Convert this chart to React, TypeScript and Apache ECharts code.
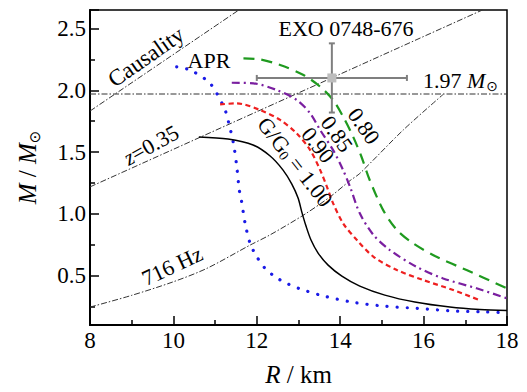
import React, { useEffect, useRef } from "react";
import * as echarts from "echarts";

const FONT = "Liberation Serif";

const X_MIN = 8;
const X_MAX = 18;
const Y_MIN = 0.1;
const Y_MAX = 2.65;

// APR (blue dotted)
const aprCurve = [
  [10.08, 2.19], [10.4, 2.164], [10.84, 2.07], [11.04, 1.975], [11.24, 1.84],
  [11.32, 1.746], [11.44, 1.57], [11.52, 1.381], [11.58, 1.193], [11.63, 1.11],
  [11.72, 0.923], [11.84, 0.76], [12.0, 0.653], [12.2, 0.558], [12.44, 0.49],
  [12.72, 0.437], [13.0, 0.397], [13.52, 0.342], [14.24, 0.288], [15.03, 0.253],
  [15.83, 0.235], [16.63, 0.215], [17.43, 0.207], [18.0, 0.199],
];
// G/G0 = 1.00 (black solid)
const g100Curve = [
  [10.61, 1.622], [11.31, 1.605], [11.91, 1.557], [12.32, 1.468], [12.63, 1.354],
  [12.84, 1.241], [12.99, 1.128], [13.08, 1.014], [13.18, 0.901], [13.3, 0.788],
  [13.47, 0.682], [13.71, 0.585], [14.04, 0.496], [14.47, 0.415], [15.07, 0.342],
  [15.79, 0.286], [16.63, 0.245], [17.35, 0.225], [18.0, 0.217],
];
// G/G0 = 0.90 (red dashed)
const g090Curve = [
  [11.12, 1.886], [11.52, 1.894], [12.08, 1.84], [12.56, 1.76], [12.96, 1.65],
  [13.28, 1.516], [13.52, 1.354], [13.68, 1.22], [13.83, 1.085], [14.07, 0.923],
  [14.4, 0.788], [14.8, 0.652], [15.36, 0.545], [15.99, 0.464], [16.71, 0.383],
  [17.35, 0.3],
];
// G/G0 = 0.85 (purple dash-dot)
const g085Curve = [
  [11.4, 2.061], [11.92, 2.056], [12.48, 2.002], [12.96, 1.921], [13.28, 1.813],
  [13.52, 1.678], [13.83, 1.516], [14.07, 1.354], [14.24, 1.215], [14.47, 1.004],
  [14.8, 0.828], [15.19, 0.707], [15.83, 0.571], [16.47, 0.477], [17.27, 0.397],
  [18.0, 0.316],
];
// G/G0 = 0.80 (green long dash)
const g080Curve = [
  [11.68, 2.259], [12.08, 2.25], [12.56, 2.205], [13.12, 2.124], [13.52, 2.029],
  [13.83, 1.921], [14.07, 1.786], [14.31, 1.624], [14.51, 1.462], [14.7, 1.28],
  [15.03, 1.03], [15.36, 0.869], [15.75, 0.761], [16.31, 0.652], [17.03, 0.545],
  [18.0, 0.397],
];
// Reference lines
const causalityLine = [[8, 1.832], [11.57, 2.65]];
const redshiftLine = [[8, 1.218], [17.41, 2.65]];
const hz716Line = [
  [8, 0.245], [9, 0.34], [10, 0.45], [10.8, 0.558], [11.84, 0.747], [12.32, 0.83],
  [13.12, 0.99], [13.76, 1.138], [14.24, 1.27], [14.47, 1.327], [15.51, 1.678],
  [16.47, 1.967],
];
const massLine = [[8, 1.97], [18, 1.97]];
// EXO 0748-676: R, M, R error, M error
const exoPoint = [[13.8, 2.1, 1.8, 0.28]];

function lineSeries(data: number[][], color: string, width: number, type: any, cap = "butt", smooth: any = 0.3) {
  return {
    type: "line",
    data,
    showSymbol: false,
    symbol: "none",
    smooth,
    silent: true,
    clip: true,
    lineStyle: { color, width, type, cap },
  };
}

export default function App() {
  const ref = useRef<HTMLDivElement>(null);
  useEffect(() => {
    document.body.style.margin = "0";
    const chart = echarts.init(ref.current!, null, { renderer: "svg" });
    const txt = (x: number, y: number, text: string, deg: number, extra: any = {}) => ({
      type: "text",
      x,
      y,
      rotation: (deg * Math.PI) / 180,
      silent: true,
      z: 100,
      style: {
        text,
        fill: "#000",
        fontSize: 21,
        fontFamily: FONT,
        align: "center",
        verticalAlign: "middle",
        ...extra,
      },
    });
    const option: any = {
      animation: false,
      textStyle: { fontFamily: FONT },
      grid: { left: 90, right: 20, top: 10, bottom: 67, show: true, borderColor: "#000", borderWidth: 1.5, backgroundColor: "transparent" },
      xAxis: {
        type: "value",
        min: X_MIN,
        max: X_MAX,
        interval: 2,
        axisLine: { show: true, onZero: false, lineStyle: { color: "#000", width: 2 } },
        axisTick: { show: true, inside: true, length: 9, lineStyle: { color: "#000", width: 1.5 } },
        minorTick: { show: true, splitNumber: 2, length: 5, lineStyle: { color: "#000", width: 1.5 } },
        splitLine: { show: false },
        axisLabel: { color: "#000", fontSize: 23, fontFamily: FONT, margin: 4 },
        name: "{i|R} / km",
        nameLocation: "middle",
        nameGap: 37,
        nameTextStyle: {
          color: "#000",
          fontSize: 25,
          fontFamily: FONT,
          rich: { i: { fontStyle: "italic", fontSize: 25, fontFamily: FONT, color: "#000" } },
        },
      },
      yAxis: {
        type: "value",
        min: Y_MIN,
        max: Y_MAX,
        splitNumber: 5,
        axisLine: { show: true, onZero: false, lineStyle: { color: "#000", width: 2 } },
        axisTick: { show: true, inside: true, length: 9, lineStyle: { color: "#000", width: 1.5 } },
        minorTick: { show: true, splitNumber: 2, length: 5, lineStyle: { color: "#000", width: 1.5 } },
        splitLine: { show: false },
        axisLabel: { color: "#000", fontSize: 23, fontFamily: FONT, margin: 4, showMinLabel: false, showMaxLabel: false, formatter: (v: number) => v.toFixed(1) },
        name: "{i|M} / {i|M}{s|⊙}",
        nameLocation: "middle",
        nameGap: 48,
        nameTextStyle: {
          color: "#000",
          fontSize: 25,
          fontFamily: FONT,
          rich: {
            i: { fontStyle: "italic", fontSize: 25, fontFamily: FONT, color: "#000" },
            s: { fontSize: 15, fontFamily: "DejaVu Sans", color: "#000", padding: [14, 0, 0, 0] },
          },
        },
      },
      series: [
        lineSeries(massLine, "#333", 1, [6, 2, 1.5, 2], "butt", false),
        lineSeries(causalityLine, "#333", 1, [6, 2, 1.5, 2], "butt", false),
        lineSeries(redshiftLine, "#333", 1, [6, 2, 1.5, 2], "butt", false),
        lineSeries(hz716Line, "#333", 1, [6, 2, 1.5, 2], "butt", 0.3),
        lineSeries(aprCurve, "#1a1ae6", 3.2, [0.1, 10], "round"),
        lineSeries(g100Curve, "#000", 1.5, "solid"),
        lineSeries(g090Curve, "#ee2020", 2.2, [5, 3.5]),
        lineSeries(g085Curve, "#7a1fa0", 2.2, [8, 4, 2, 4]),
        lineSeries(g080Curve, "#1f9a1f", 2.2, [11, 7]),
        {
          type: "custom",
          data: exoPoint,
          silent: true,
          z: 20,
          renderItem: (params: any, api: any) => {
            const r = api.value(0), m = api.value(1), er = api.value(2), em = api.value(3);
            const c = api.coord([r, m]);
            const l = api.coord([r - er, m]);
            const rr = api.coord([r + er, m]);
            const t = api.coord([r, m + em]);
            const b = api.coord([r, m - em]);
            const st = { stroke: "#7f7f7f", lineWidth: 2 };
            const cap = 3;
            return {
              type: "group",
              children: [
                { type: "line", shape: { x1: l[0], y1: l[1], x2: rr[0], y2: rr[1] }, style: st },
                { type: "line", shape: { x1: t[0], y1: t[1], x2: b[0], y2: b[1] }, style: st },
                { type: "line", shape: { x1: l[0], y1: l[1] - cap, x2: l[0], y2: l[1] + cap }, style: st },
                { type: "line", shape: { x1: rr[0], y1: rr[1] - cap, x2: rr[0], y2: rr[1] + cap }, style: st },
                { type: "line", shape: { x1: t[0] - cap, y1: t[1], x2: t[0] + cap, y2: t[1] }, style: st },
                { type: "line", shape: { x1: b[0] - cap, y1: b[1], x2: b[0] + cap, y2: b[1] }, style: st },
                { type: "rect", shape: { x: c[0] - 4.5, y: c[1] - 4.5, width: 9, height: 9 }, style: { fill: "#bdbdbd" } },
              ],
            };
          },
        },
      ],
      graphic: [
        txt(346, 28, "EXO 0748-676", 0, { fontSize: 22 }),
        txt(423, 80, "1.97 {i|M}{s|⊙}", 0, {
          align: "left",
          fontSize: 22,
          rich: {
            i: { fontStyle: "italic", fontSize: 22, fontFamily: FONT, fill: "#000" },
            s: { fontSize: 14, fontFamily: "DejaVu Sans", fill: "#000", padding: [12, 0, 0, 1] },
          },
        }),
        txt(209, 60, "APR", 0, { fontSize: 22 }),
        txt(146, 57, "Causality", 35, { fontSize: 23 }),
        txt(151, 145, "{i|z}=0.35", 29, { fontSize: 22, rich: { i: { fontStyle: "italic", fontSize: 22, fontFamily: FONT, fill: "#000" } } }),
        txt(172, 266, "716 Hz", 25, { fontSize: 22 }),
        txt(295, 162, "G/G{s|0} = 1.00", -52, { fontSize: 22, rich: { s: { fontSize: 14, fontFamily: FONT, fill: "#000", padding: [10, 0, 0, 0] } } }),
        txt(318, 145, "0.90", -52, { fontSize: 22 }),
        txt(337, 134, "0.85", -55, { fontSize: 22 }),
        txt(364, 126, "0.80", -55, { fontSize: 22 }),
      ],
    };
    chart.setOption(option);
    return () => chart.dispose();
  }, []);
  return <div ref={ref} style={{ width: 527, height: 392 }} />;
}
